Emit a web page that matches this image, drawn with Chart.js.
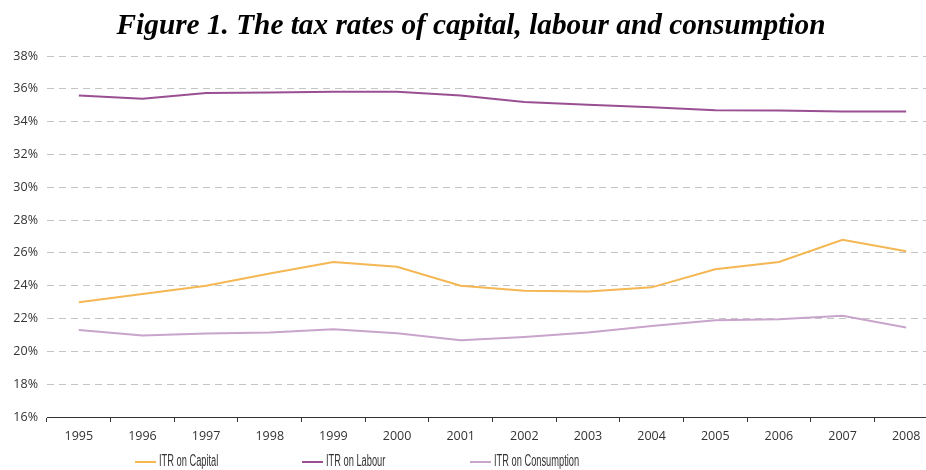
<!DOCTYPE html>
<html>
<head>
<meta charset="utf-8">
<script src="https://cdn.jsdelivr.net/npm/chart.js@4"></script>
<style>
    html, body { margin: 0; padding: 0; background: #fff; overflow: hidden; }
    #wrap { position: relative; width: 926px; height: 470px; overflow: hidden; }
    #title {
        position: absolute; left: 0; top: 8px; width: 942px; text-align: center;
        font-family: 'Liberation Serif', 'Times New Roman', serif;
        font-weight: bold; font-style: italic; font-size: 29.3px; color: #000;
    }
    canvas { position: absolute; left: 0; top: 0; }
    .leg { position: absolute; top: 452px; font-family: 'Liberation Sans', sans-serif;
        font-size: 16px; color: #333; white-space: nowrap; }
    .leg span { display: inline-block; width: 21px; height: 2px; vertical-align: middle; margin-right: 3px; }
    .leg b { font-weight: normal; display: inline-block; transform: scaleX(0.58); transform-origin: left center; }
</style>
</head>
<body>
<div id="wrap">
    <canvas id="taxChart" width="938" height="470"></canvas>
    <div id="title">Figure 1. The tax rates of capital, labour and consumption</div>
    <div id="legend"></div>
</div>
<script>
    const years = ['1995', '1996', '1997', '1998', '1999', '2000', '2001', '2002', '2003', '2004', '2005', '2006', '2007', '2008'];
    const itrCapital = [23.0, 23.5, 24.0, 24.75, 25.45, 25.15, 24.0, 23.7, 23.65, 23.9, 25.0, 25.45, 26.8, 26.1];
    const itrLabour = [35.6, 35.4, 35.75, 35.78, 35.82, 35.82, 35.6, 35.2, 35.03, 34.87, 34.69, 34.68, 34.62, 34.62];
    const itrConsumption = [21.3, 20.97, 21.09, 21.15, 21.35, 21.1, 20.68, 20.88, 21.15, 21.55, 21.9, 21.95, 22.17, 21.46];
    const seriesNames = ['ITR on Capital', 'ITR on Labour', 'ITR on Consumption'];
    const seriesColors = ['#f4b753', '#9a4f93', '#c9a4cb'];
    const legendLeft = [135, 302, 470];

    // legende in HTML, vi tri co dinh nhu hinh goc
    const legendEl = document.getElementById('legend');
    seriesNames.forEach((name, i) => {
        const div = document.createElement('div');
        div.className = 'leg';
        div.style.left = legendLeft[i] + 'px';
        div.innerHTML = `<span style="background:${seriesColors[i]}"></span><b>${name}</b>`;
        legendEl.appendChild(div);
    });

    const ctx = document.getElementById('taxChart').getContext('2d');
    new Chart(ctx, {
        type: 'line',
        data: {
            labels: years,
            datasets: [itrCapital, itrLabour, itrConsumption].map((data, i) => ({
                label: seriesNames[i],
                data: data,
                borderColor: seriesColors[i],
                backgroundColor: seriesColors[i],
                borderWidth: 2,
                pointRadius: 0,
                tension: 0,
                fill: false
            }))
        },
        options: {
            responsive: false,
            animation: false,
            layout: { padding: { top: 56, bottom: 19, left: 0, right: 0 } },
            plugins: {
                legend: { display: false },
                title: { display: false },
                tooltip: { enabled: false }
            },
            scales: {
                x: {
                    offset: true,
                    grid: { offset: true, drawOnChartArea: false, tickLength: 5, color: '#333' },
                    border: { color: '#333', width: 1 },
                    ticks: { color: '#333', padding: 7, font: { family: 'Open Sans', size: 12.5 } }
                },
                y: {
                    min: 16,
                    max: 38,
                    afterFit: (s) => { s.width = 47; },
                    grid: { color: '#c4c4c4', drawTicks: false, lineWidth: 1 },
                    border: { display: false, dash: [7, 5] },
                    ticks: {
                        stepSize: 2,
                        padding: 9,
                        color: '#333',
                        font: { family: 'Open Sans', size: 12.5 },
                        callback: (v) => v + '%'
                    }
                }
            }
        }
    });
</script>
</body>
</html>
